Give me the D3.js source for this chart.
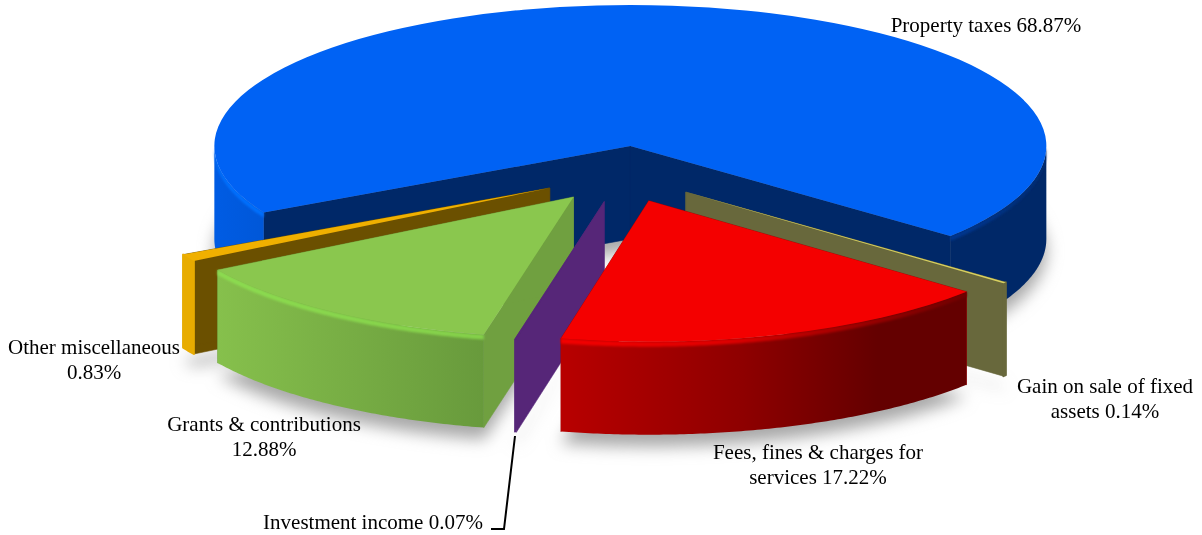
<!DOCTYPE html>
<html>
<head>
<meta charset="utf-8">
<script src="https://cdn.jsdelivr.net/npm/d3@7"></script>
<style>
    body { margin: 0; background: #fff; }
    text { font-family: "Liberation Serif", "Times New Roman", serif; font-size: 21px; fill: #000; }
</style>
</head>
<body>
<svg id="chart" width="1202" height="535"></svg>
<script>
// Slices in clockwise order, starting from the left end of the big blue slice
var categories = ["Property taxes", "Gain on sale of fixed assets", "Fees, fines & charges for services",
    "Investment income", "Grants & contributions", "Other miscellaneous"];
var percents = [68.87, 0.14, 17.22, 0.07, 12.88, 0.83];

var topColors = ["#0062f4", "#d8d060", "#f40000", "#562678", "#8ac74e", "#f0b000"];
var cutColors = ["#002868", "#68683c", "#a00000", "#562678", "#70a040", "#6b5000"];
var wallStops = [
    [["0", "#005ce4"], ["0.1", "#0054d0"], ["0.85", "#002868"], ["1", "#002868"]],
    [["0", "#68683c"], ["1", "#68683c"]],
    [["0", "#b80000"], ["0.45", "#8e0000"], ["0.78", "#640000"], ["1", "#640000"]],
    [["0", "#562678"], ["1", "#562678"]],
    [["0", "#86c04c"], ["1", "#689a3c"]],
    [["0", "#e8ac00"], ["1", "#e8ac00"]]
];
var rimStops = [
    [["0", "#0072ff"], ["0.1", "#006cfa"], ["0.85", "#003a98"], ["1", "#002c74"]],
    null,
    [["0", "#f40000"], ["0.4", "#e00000"], ["0.8", "#900000"], ["1", "#700000"]],
    null,
    [["0", "#8cdc50"], ["1", "#84d04a"]],
    null
];

// label lines and where they sit (middle x, first baseline)
var labelLines = [
    ["Property taxes 68.87%"],
    ["Gain on sale of fixed", "assets 0.14%"],
    ["Fees, fines & charges for", "services 17.22%"],
    ["Investment income 0.07%"],
    ["Grants & contributions", "12.88%"],
    ["Other miscellaneous", "0.83%"]
];
var labelX = [986, 1105, 818, 373, 264, 94];
var labelY = [32, 393, 459, 529, 431, 354];
var leader = [[515, 436], [504, 529], [491, 529]];

var cx = 622, cy = 174,
    rx = 416, ry = 141,
    depth = 93,
    explode = 0.2,
    start = -118.2 * Math.PI / 180;

var svg = d3.select("#chart");
var defs = svg.append("defs");

defs.append("filter").attr("id", "shadowBlur")
    .attr("x", "-20%").attr("y", "-30%").attr("width", "140%").attr("height", "160%")
    .append("feGaussianBlur").attr("stdDeviation", 8);
defs.append("filter").attr("id", "rimBlur")
    .attr("x", "-5%").attr("y", "-20%").attr("width", "110%").attr("height", "140%")
    .append("feGaussianBlur").attr("stdDeviation", 0.9);

function addGradient(id, stops) {
    var g = defs.append("linearGradient").attr("id", id)
        .attr("x1", 0).attr("x2", 1).attr("y1", 0).attr("y2", 0);
    stops.forEach(function (s) {
        g.append("stop").attr("offset", s[0]).attr("stop-color", s[1]);
    });
}

var pie = d3.pie().sort(null).startAngle(start).endAngle(start + 2 * Math.PI);
var slices = pie(percents);

var arc = d3.arc().innerRadius(0).outerRadius(rx);
var line = d3.line();

function centerOf(d) {
    var mid = (d.startAngle + d.endAngle) / 2;
    return [cx + explode * rx * Math.sin(mid), cy - explode * ry * Math.cos(mid)];
}

function rimPoint(c, a, dy) {
    return [c[0] + rx * Math.sin(a), c[1] - ry * Math.cos(a) + dy];
}

function sampleArc(c, a0, a1, dy) {
    var n = Math.max(2, Math.ceil((a1 - a0) / 0.01));
    return d3.range(n + 1).map(function (i) {
        return rimPoint(c, a0 + (a1 - a0) * i / n, dy);
    });
}

// front half of the rim only, the back of it can't be seen
function frontRanges(d) {
    var out = [];
    [[Math.PI / 2, 1.5 * Math.PI], [-1.5 * Math.PI, -Math.PI / 2]].forEach(function (f) {
        var a0 = Math.max(d.startAngle, f[0]), a1 = Math.min(d.endAngle, f[1]);
        if (a1 > a0) out.push([a0, a1]);
    });
    return out;
}

function sectorTransform(c, dy) {
    return "translate(" + c[0] + "," + (c[1] + dy) + ") scale(1," + (ry / rx) + ")";
}

// shadow under everything
var shadow = svg.append("g").attr("filter", "url(#shadowBlur)");
slices.forEach(function (d) {
    shadow.append("path")
        .attr("d", arc(d))
        .attr("transform", sectorTransform(centerOf(d), depth + 12))
        .attr("fill", "#a8a8a8");
});

// back to front, red has to land on top of purple, purple on top of green
var drawOrder = [0, 5, 1, 4, 3, 2];

drawOrder.forEach(function (i) {
    var d = slices[i], c = centerOf(d);
    var g = svg.append("g").attr("class", "slice");

    addGradient("wall" + i, wallStops[i]);

    // the two cut faces, one path so no seam shows at the middle
    var cutPath = [d.startAngle, d.endAngle].map(function (a) {
        var p = rimPoint(c, a, 0), q = rimPoint(c, a, depth);
        return line([c, p, q, [c[0], c[1] + depth]]) + "Z";
    }).join("");
    g.append("path")
        .attr("d", cutPath)
        .attr("fill", cutColors[i])
        .attr("stroke", cutColors[i])
        .attr("stroke-width", 0.6);

    // outer wall
    var ranges = frontRanges(d);
    var wallPath = ranges.map(function (r) {
        var upper = sampleArc(c, r[0], r[1], 0);
        var lower = sampleArc(c, r[0], r[1], depth).reverse();
        return line(upper.concat(lower)) + "Z";
    }).join("");
    var wall = g.append("path")
        .attr("d", wallPath)
        .attr("fill", "url(#wall" + i + ")");

    // the thin slices have rounded corners
    if (i === 1 || i === 5) {
        wall.attr("stroke", wallStops[i][0][1])
            .attr("stroke-width", 2)
            .attr("stroke-linejoin", "round");
    }

    // lighter bevel along the top edge
    if (rimStops[i]) {
        addGradient("rim" + i, rimStops[i]);
        var rimPath = ranges.map(function (r) {
            var upper = sampleArc(c, r[0], r[1], 0);
            var lower = sampleArc(c, r[0], r[1], 5).reverse();
            return line(upper.concat(lower)) + "Z";
        }).join("");
        g.append("path")
            .attr("d", rimPath)
            .attr("fill", "url(#rim" + i + ")")
            .attr("filter", "url(#rimBlur)");
    }

    // top
    g.append("path")
        .attr("d", arc(d))
        .attr("transform", sectorTransform(c, 0))
        .attr("fill", topColors[i]);
});

// leader for the investment income slice
svg.append("path")
    .attr("d", line(leader))
    .attr("fill", "none")
    .attr("stroke", "#000")
    .attr("stroke-width", 2);

// labels
labelLines.forEach(function (lines, i) {
    var t = svg.append("text")
        .attr("text-anchor", "middle")
        .attr("x", labelX[i])
        .attr("y", labelY[i]);
    lines.forEach(function (s, j) {
        t.append("tspan")
            .attr("x", labelX[i])
            .attr("dy", j ? 25 : 0)
            .text(s);
    });
});
</script>
</body>
</html>
